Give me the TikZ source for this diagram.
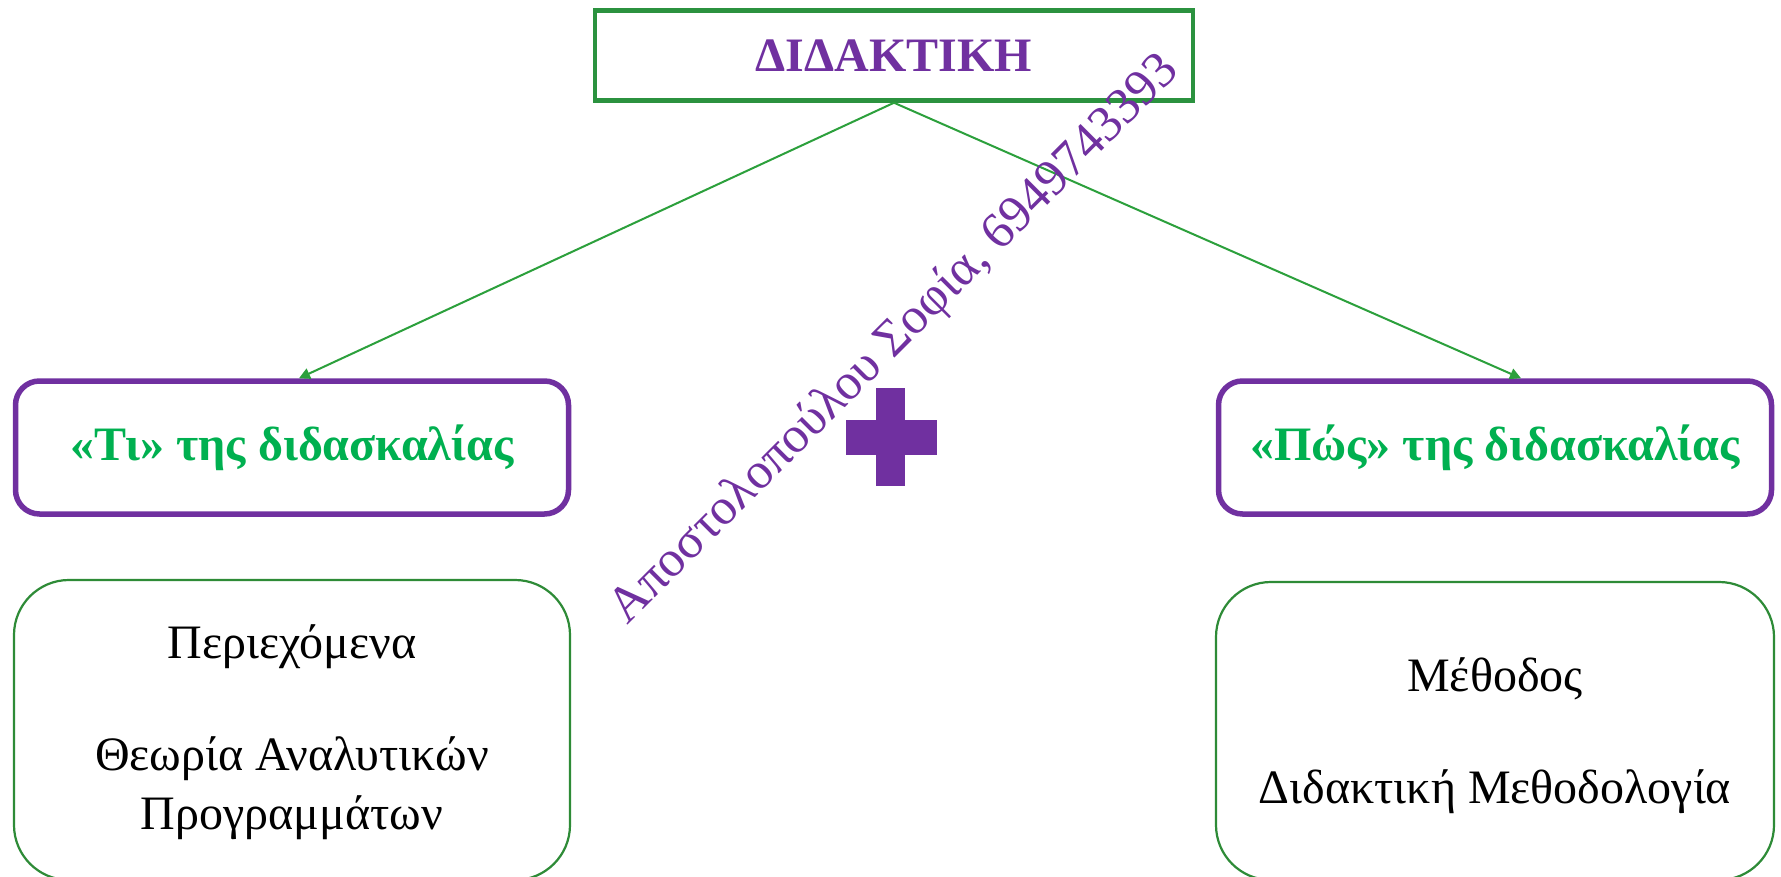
\documentclass[tikz,border=0pt]{standalone}
\usepackage{fontspec}
\setmainfont{Liberation Serif}
\usetikzlibrary{arrows.meta}
\definecolor{purp}{HTML}{7030A0}
\definecolor{tgreen}{HTML}{00B050}
\definecolor{bgreen}{HTML}{2B923F}
\definecolor{agreen}{HTML}{2CA03C}
\definecolor{lgreen}{HTML}{2E8B37}
\begin{document}
\begin{tikzpicture}[x=1pt,y=-1pt,
  topbox/.style={draw=bgreen,line width=4.5pt,minimum width=598pt,minimum height=90pt,inner sep=0pt,text=purp,font=\fontsize{48}{52}\selectfont\bfseries},
  midbox/.style={draw=purp,line width=5.5pt,rounded corners=24pt,minimum width=553pt,minimum height=133pt,inner sep=0pt,text=tgreen,font=\fontsize{48}{54}\selectfont\bfseries},
  lowbox/.style={draw=lgreen,line width=2.2pt,rounded corners=55pt},
  lowtext/.style={font=\fontsize{48}{54}\selectfont,text=black,inner sep=0pt},
  conn/.style={draw=agreen,line width=2pt,-{Triangle[length=11pt,width=11pt]}}
]
\useasboundingbox (0,0) rectangle (1781,877);
\fill[white] (0,0) rectangle (1781,877);
% top
\node[topbox] (top) at (894,55.5) {ΔΙΔΑΚΤΙΚΗ};
% mid boxes
\node[midbox] (ti) at (292,447.5) {«Τι» της διδασκαλίας};
\node[midbox] (pos) at (1495,447.5) {«Πώς» της διδασκαλίας};
% connectors
\draw[conn] (top.south) -- ([xshift=7pt]ti.north);
\draw[conn] (top.south) -- ([xshift=26pt]pos.north);
% plus
\fill[purp] (876,388) rectangle (905,486);
\fill[purp] (846,420) rectangle (937,455);
% lower boxes
\draw[lowbox] (14,580) rectangle (570,880);
\draw[lowbox] (1216,582) rectangle (1774,880);
\node[lowtext] (t1) at (292,647) {Περιεχόμενα};
\node[lowtext] (t2) at (292,759) {Θεωρία Αναλυτικών};
\node[lowtext] (t3) at (292,818) {Προγραμμάτων};
\node[lowtext] (t4) at (1495,679) {Μέθοδος};
\node[lowtext] (t5) at (1495,792) {Διδακτική Μεθοδολογία};
% watermark
\node[text=purp,font=\fontsize{51}{55}\selectfont,rotate=45,inner sep=0pt] (wm) at (895,340) {Αποστολοπούλου Σοφία, 6949743393};
\end{tikzpicture}
\end{document}
